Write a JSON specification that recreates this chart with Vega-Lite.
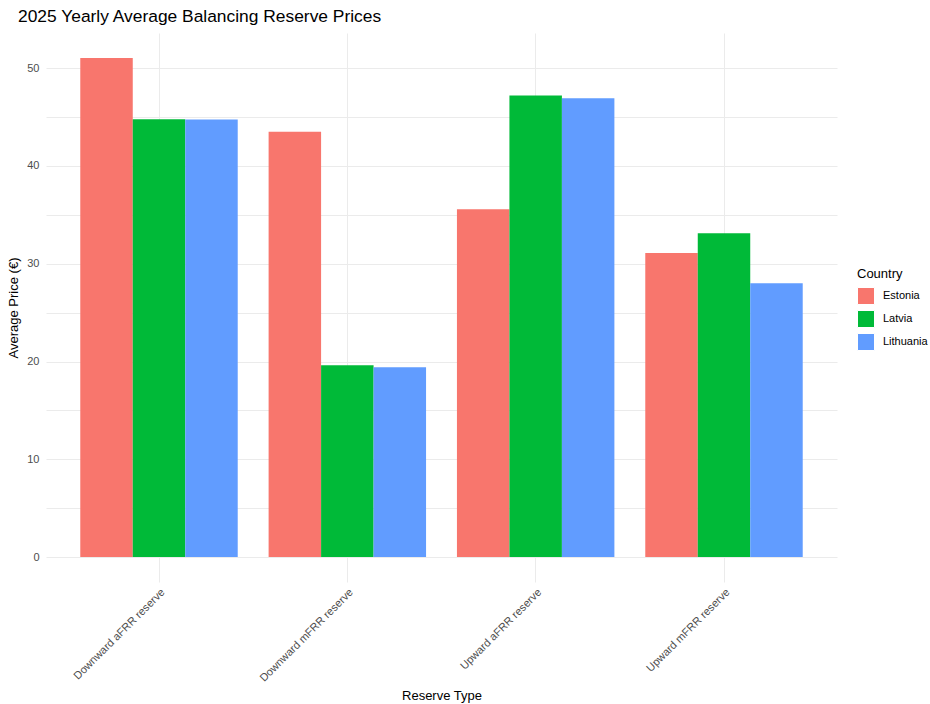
{
  "$schema": "https://vega.github.io/schema/vega-lite/v6.json",
  "width": 791,
  "height": 549,
  "autosize": {"type": "none"},
  "padding": {"left": 46, "top": 33, "right": 93, "bottom": 122},
  "background": "white",
  "title": {
    "text": "2025 Yearly Average Balancing Reserve Prices",
    "anchor": "start",
    "frame": "group",
    "dx": -28,
    "offset": 8,
    "fontSize": 17.4,
    "font": "Liberation Sans",
    "fontWeight": "normal",
    "color": "black"
  },
  "config": {
    "view": {"stroke": null},
    "axis": {
      "domain": false,
      "ticks": false,
      "gridColor": "#ebebeb",
      "gridWidth": 1,
      "labelFont": "Liberation Sans",
      "titleFont": "Liberation Sans",
      "labelColor": "#4d4d4d",
      "titleColor": "black",
      "titleFontWeight": "normal",
      "labelFontSize": 11,
      "titleFontSize": 13
    },
    "legend": {
      "titleFont": "Liberation Sans",
      "labelFont": "Liberation Sans",
      "titleFontWeight": "normal",
      "titleFontSize": 13,
      "labelFontSize": 11,
      "titleColor": "black",
      "labelColor": "black"
    }
  },
  "data": {
    "values": [
      {"reserve": "Downward aFRR reserve", "country": "Estonia", "price": 51.05},
      {"reserve": "Downward aFRR reserve", "country": "Latvia", "price": 44.78},
      {"reserve": "Downward aFRR reserve", "country": "Lithuania", "price": 44.76},
      {"reserve": "Downward mFRR reserve", "country": "Estonia", "price": 43.51},
      {"reserve": "Downward mFRR reserve", "country": "Latvia", "price": 19.61},
      {"reserve": "Downward mFRR reserve", "country": "Lithuania", "price": 19.41},
      {"reserve": "Upward aFRR reserve", "country": "Estonia", "price": 35.58},
      {"reserve": "Upward aFRR reserve", "country": "Latvia", "price": 47.2},
      {"reserve": "Upward aFRR reserve", "country": "Lithuania", "price": 46.92},
      {"reserve": "Upward mFRR reserve", "country": "Estonia", "price": 31.09},
      {"reserve": "Upward mFRR reserve", "country": "Latvia", "price": 33.12},
      {"reserve": "Upward mFRR reserve", "country": "Lithuania", "price": 28.0}
    ]
  },
  "mark": {"type": "bar"},
  "encoding": {
    "x": {
      "field": "reserve",
      "type": "nominal",
      "title": "Reserve Type",
      "sort": null,
      "scale": {"paddingInner": 0.164, "paddingOuter": 0.182},
      "axis": {
        "labelAngle": -45,
        "labelAlign": "right",
        "labelBaseline": "top",
        "labelPadding": 4,
        "titlePadding": 6,
        "bandPosition": 0.5,
        "grid": true
      }
    },
    "xOffset": {
      "field": "country",
      "type": "nominal",
      "scale": {"paddingInner": 0, "paddingOuter": 0}
    },
    "y": {
      "field": "price",
      "type": "quantitative",
      "title": "Average Price (€)",
      "scale": {"domain": [-2.55, 53.6], "nice": false, "zero": false},
      "axis": {
        "values": [0, 5, 10, 15, 20, 25, 30, 35, 40, 45, 50],
        "labelExpr": "datum.value % 10 === 0 ? datum.label : ''",
        "labelPadding": 7,
        "titlePadding": 6
      }
    },
    "y2": {"datum": 0},
    "color": {
      "field": "country",
      "type": "nominal",
      "title": "Country",
      "scale": {
        "domain": ["Estonia", "Latvia", "Lithuania"],
        "range": ["#F8766D", "#00BA38", "#619CFF"]
      },
      "legend": {
        "orient": "none",
        "legendX": 811,
        "legendY": 235,
        "symbolType": "square",
        "symbolSize": 289,
        "symbolOpacity": 1,
        "symbolStrokeColor": "white",
        "symbolStrokeWidth": 1,
        "rowPadding": 1,
        "labelOffset": 8,
        "titlePadding": 6
      }
    }
  }
}
